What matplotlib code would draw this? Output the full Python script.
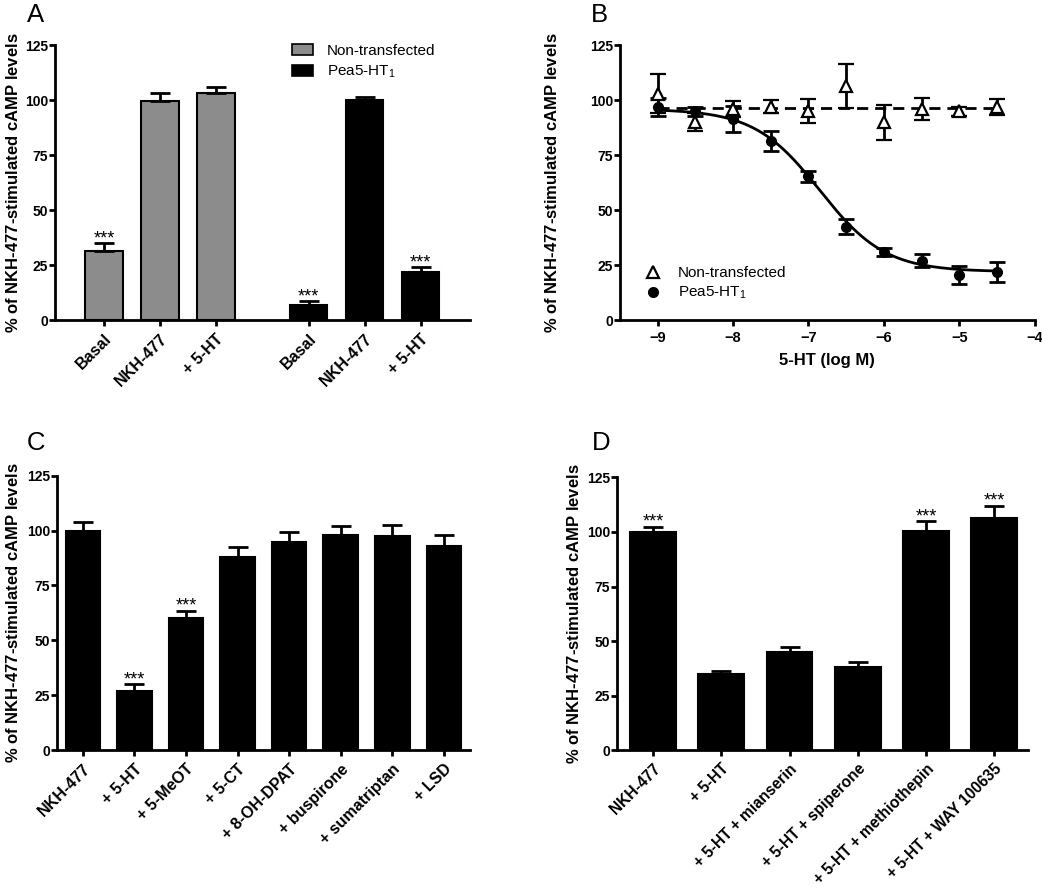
import matplotlib
matplotlib.use("Agg")
import matplotlib.pyplot as plt
from matplotlib.lines import Line2D
import numpy as np

plt.rcParams['font.family'] = ['Liberation Sans', 'DejaVu Sans']
plt.rcParams['mathtext.fontset'] = 'custom'
plt.rcParams['mathtext.rm'] = 'Liberation Sans:bold'
plt.rcParams['mathtext.it'] = 'Liberation Sans:italic:bold'
plt.rcParams['mathtext.bf'] = 'Liberation Sans:bold'

# ---- data ----
# A
a_labels = ['Basal', 'NKH-477', '+ 5-HT']
a_non_mean = [31.5, 99.5, 103.5]
a_non_sem = [3.5, 4.0, 2.5]
a_non_sig = ['***', '', '']
a_pea_mean = [7.0, 100.0, 22.0]
a_pea_sem = [1.5, 1.5, 2.0]
a_pea_sig = ['***', '', '***']

# B
b_logc = [-9, -8.5, -8, -7.5, -7, -6.5, -6, -5.5, -5, -4.5]
b_non_mean = [103, 90, 96, 97, 95, 106.5, 90, 96, 95, 97]
b_non_sem = [9, 4, 3.5, 3, 5.5, 10, 8, 5, 2, 3.5]
b_pea_mean = [97, 95, 91.5, 81.5, 65.5, 42.5, 31, 27, 20.5, 22]
b_pea_sem = [4, 2, 6, 4.5, 2.5, 3.5, 2, 3, 4, 4.5]
# fitted parameters
b_non_fit_level = 96.5
b_pea_top = 96.0
b_pea_bottom = 22.0
b_pea_logic50 = -6.85

# C
c_labels = ['NKH-477', '+ 5-HT', '+ 5-MeOT', '+ 5-CT', '+ 8-OH-DPAT',
            '+ buspirone', '+ sumatriptan', '+ LSD']
c_mean = [100, 27, 60, 88, 95, 98, 97.5, 93]
c_sem = [4, 3, 3.5, 4.5, 4.5, 4, 5, 5]
c_sig = ['', '***', '***', '', '', '', '', '']

# D
d_labels = ['NKH-477', '+ 5-HT', '+ 5-HT + mianserin', '+ 5-HT + spiperone',
            '+ 5-HT + methiothepin', '+ 5-HT + WAY 100635']
d_mean = [100, 35, 45, 38, 100.5, 106.5]
d_sem = [2.5, 1.5, 2.5, 2.5, 4.5, 5.5]
d_sig = ['***', '', '', '', '***', '***']

ylab = r'% of NKH-$\mathit{477}$-stimulated cAMP levels'
GRAY = '#8c8c8c'


def style_axes(ax, xlabsize=11.5):
    for s in ['top', 'right']:
        ax.spines[s].set_visible(False)
    for s in ['left', 'bottom']:
        ax.spines[s].set_linewidth(2)
    ax.tick_params(axis='y', width=2, length=4, pad=1, labelsize=10)
    ax.tick_params(axis='x', width=2, length=4.5, pad=3.5, labelsize=xlabsize)
    for t in ax.get_yticklabels() + ax.get_xticklabels():
        t.set_fontweight('bold')
    ax.set_ylim(0, 125)
    ax.set_yticks([0, 25, 50, 75, 100, 125])
    ax.spines['left'].set_bounds(0, 125)
    ax.set_ylabel(ylab, fontsize=12, fontweight='bold')


def bars(ax, x, mean, sem, color, sig):
    ax.bar(x, mean, width=0.67, color=color, edgecolor='black', linewidth=1.5, zorder=2)
    ax.errorbar(x, mean, yerr=[np.zeros(len(sem)), sem], fmt='none', ecolor='black',
                elinewidth=2, capsize=7.5, capthick=2, zorder=3)
    for xi, m, s, st in zip(x, mean, sem, sig):
        if st:
            ax.text(xi, m + s, st, ha='center', va='baseline', fontsize=13)


def rot_labels(ax, labels):
    ax.set_xticklabels(labels, rotation=45, ha='right', rotation_mode='anchor',
                       fontweight='bold')


fig = plt.figure(figsize=(10.42, 8.89), dpi=100)

# ---- A ----
axA = fig.add_axes([0.0528, 0.640, 0.398, 0.309])
xa1 = np.arange(3)
xa2 = np.arange(3) + 3.66
bars(axA, xa1, a_non_mean, a_non_sem, GRAY, a_non_sig)
bars(axA, xa2, a_pea_mean, a_pea_sem, 'black', a_pea_sig)
axA.set_xlim(-0.875, 6.54)
axA.set_xticks(list(xa1) + list(xa2))
rot_labels(axA, a_labels + a_labels)
style_axes(axA)
hA = [plt.Rectangle((0, 0), 1, 1, facecolor=GRAY, edgecolor='black', linewidth=1.2),
      plt.Rectangle((0, 0), 1, 1, facecolor='black', edgecolor='black', linewidth=1.2)]
axA.legend(hA, ['Non-transfected', r'Pea5-HT$_\mathregular{1}$'], loc='upper left',
           bbox_to_anchor=(0.571, 1.005), frameon=False, fontsize=11,
           borderpad=0, borderaxespad=0, handlelength=1.37, handleheight=0.72,
           handletextpad=0.9, labelspacing=0.4)

# ---- B ----
axB = fig.add_axes([0.595, 0.640, 0.398, 0.309])
axB.errorbar(b_logc, b_non_mean, yerr=b_non_sem, fmt='^', mfc='white', mec='black',
             mew=1.6, ms=8, ecolor='black', elinewidth=2, capsize=6, capthick=2, zorder=3)
axB.errorbar(b_logc, b_pea_mean, yerr=b_pea_sem, fmt='o', color='black', ms=7,
             ecolor='black', elinewidth=2, capsize=6, capthick=2, zorder=3)
xfit = np.linspace(b_logc[0], b_logc[-1], 300)
axB.plot([b_logc[0], b_logc[-1]], [b_non_fit_level] * 2, color='black', lw=2,
         ls=(0, (4, 2.5)), zorder=2)
axB.plot(xfit, b_pea_bottom + (b_pea_top - b_pea_bottom) / (1 + 10 ** (xfit - b_pea_logic50)),
         color='black', lw=2, zorder=2)
axB.set_xlim(-9.5, -4)
axB.set_xticks([-9, -8, -7, -6, -5, -4])
axB.set_xlabel('5-HT (log M)', fontsize=12, fontweight='bold', labelpad=6)
style_axes(axB, xlabsize=10.5)
hB = [Line2D([], [], ls='none', marker='^', mfc='white', mec='black', mew=1.6, ms=8),
      Line2D([], [], ls='none', marker='o', color='black', ms=7)]
axB.legend(hB, ['Non-transfected', r'Pea5-HT$_\mathregular{1}$'], loc='lower left',
           bbox_to_anchor=(0.061, 0.068), frameon=False, fontsize=11,
           borderpad=0, borderaxespad=0, handlelength=1.0,
           handletextpad=1.14, labelspacing=0.32)

# ---- C ----
axC = fig.add_axes([0.0547, 0.156, 0.396, 0.309])
xc = np.arange(len(c_labels))
bars(axC, xc, c_mean, c_sem, 'black', c_sig)
axC.set_xlim(-0.5, 7.5)
axC.set_xticks(xc)
rot_labels(axC, c_labels)
style_axes(axC)

# ---- D ----
axD = fig.add_axes([0.592, 0.156, 0.395, 0.307])
xd = np.arange(len(d_labels))
bars(axD, xd, d_mean, d_sem, 'black', d_sig)
axD.set_xlim(-0.53, 5.5)
axD.set_xticks(xd)
rot_labels(axD, d_labels)
style_axes(axD, xlabsize=11.2)

# panel letters
for lab, (px, py) in zip('ABCD', [(27, 3), (591, 3), (27, 431), (592, 431)]):
    fig.text(px / 1042, 1 - py / 889, lab, fontsize=18.5, ha='left', va='top')

axA.yaxis.set_label_coords(-0.082, 0.5)
axB.yaxis.set_label_coords(-0.145, 0.5)
axC.yaxis.set_label_coords(-0.087, 0.5)
axD.yaxis.set_label_coords(-0.085, 0.5)

fig.savefig('out.png', dpi=100)
